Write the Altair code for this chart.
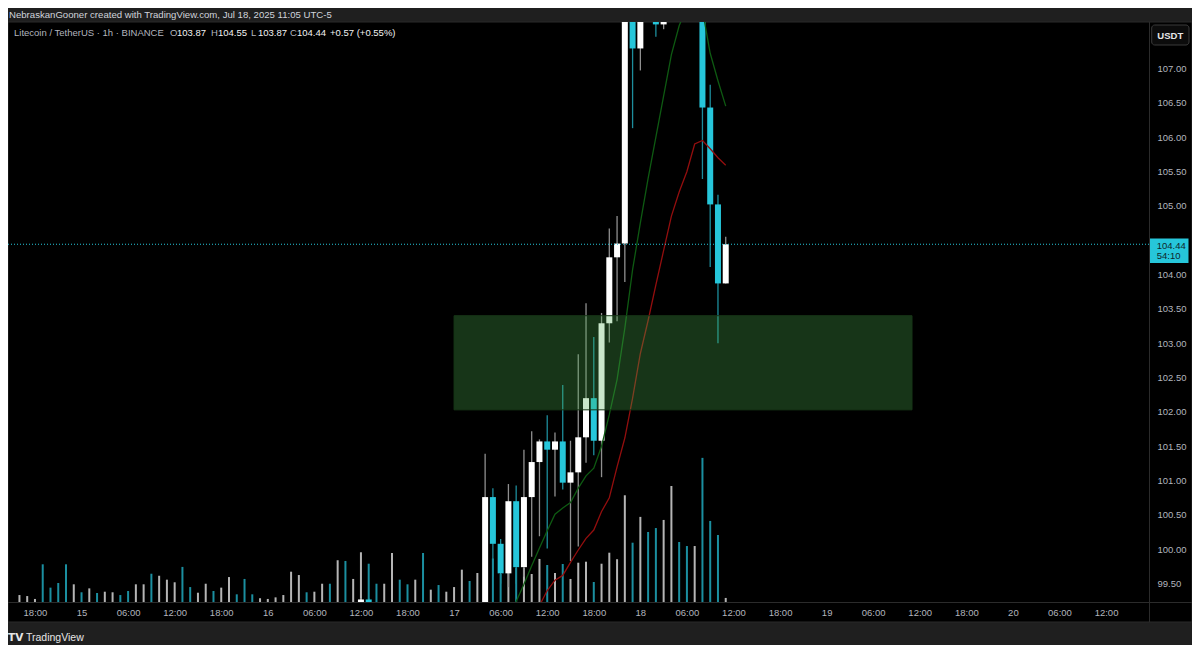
import altair as alt
import pandas as pd

# ---------------- data ----------------
# hours relative to 2025-07-17 00:00 (UTC-5)
vol_hours = list(range(-56, 36))
volumes = [4.8, 4.1, 2.1, 26.0, 9.9, 13.1, 26.0, 12.2, 6.7, 9.4,
           6.2, 7.1, 6.7, 4.8, 7.6, 12.2, 12.2, 19.5, 18.1, 15.4,
           13.6, 24.2, 10.3, 6.4, 12.6, 7.6, 9.9, 17.2, 5.3, 15.9,
           5.3, 2.6, 2.1, 3.2, 4.8, 20.9, 18.6, 6.7, 7.1, 12.6,
           12.6, 28.8, 28.3, 15.9, 34.3, 26.4, 12.6, 12.6, 33.8, 15.4,
           12.2, 15.4, 33.8, 8.5, 11.7, 7.1, 10.3, 22.3, 14.5, 20.0,
           35.0, 30.0, 19.3, 28.0, 23.5, 23.5, 19.3, 29.7, 25.5, 20.0,
           26.2, 15.9, 27.1, 27.8, 13.8, 26.4, 34.0, 29.5, 73.6, 40.9,
           58.7, 48.3, 51.0, 56.6, 80.0, 41.4, 38.6, 38.6, 99.4, 55.9,
           46.2, 2.8]
vol_dir = ["u", "u", "u", "d", "d", "d", "d", "u", "d", "u",
           "d", "u", "u", "d", "d", "u", "u", "d", "u", "u",
           "u", "d", "d", "u", "u", "d", "u", "u", "d", "d",
           "d", "u", "u", "u", "u", "u", "u", "d", "u", "u",
           "d", "u", "d", "u", "u", "d", "d", "u", "u", "d",
           "d", "u", "d", "u", "d", "u", "u", "u", "d", "u",
           "u", "d", "d", "u", "d", "u", "u", "u", "d", "u",
           "d", "u", "u", "u", "d", "u", "u", "u", "u", "d",
           "u", "d", "d", "u", "u", "d", "d", "u", "d", "d",
           "d", "u"]

candle_hours = [-12, -11] + list(range(4, 36))
opens = [98.95, 99.27, 99.10, 100.76, 100.08, 99.65, 100.70, 99.74, 100.76, 101.27,
         101.57, 101.45, 101.57, 100.97, 101.12, 101.63, 102.20, 101.58, 103.29, 104.25,
         104.45, 108.30, 107.29, 108.20, 107.95, 107.64, 107.85, 108.30, 108.05, 107.90,
         108.10, 106.43, 105.02, 103.87]
highs = [99.29, 99.29, 101.39, 100.89, 100.15, 100.95, 100.93, 101.45, 101.72, 101.60,
         101.95, 101.70, 102.39, 101.58, 102.84, 103.58, 103.09, 103.44, 104.67, 104.85,
         108.60, 108.50, 108.60, 108.40, 108.10, 108.00, 108.50, 108.45, 108.20, 108.30,
         108.20, 106.76, 105.16, 104.55]
lows = [98.80, 98.90, 98.90, 99.60, 99.50, 99.45, 99.50, 99.60, 99.89, 100.19,
        100.01, 100.77, 100.87, 99.83, 100.04, 101.26, 101.37, 101.05, 103.01, 103.32,
        103.89, 106.13, 106.97, 107.80, 107.46, 107.57, 107.75, 107.90, 107.75, 107.78,
        105.39, 104.11, 103.00, 103.87]
closes = [99.27, 99.05, 100.76, 100.08, 99.65, 100.70, 99.74, 100.76, 101.27, 101.57,
          101.45, 101.57, 100.97, 101.12, 101.63, 102.20, 101.58, 103.29, 104.25, 104.45,
          108.30, 107.29, 108.20, 107.95, 107.64, 107.85, 108.30, 108.05, 107.90, 108.10,
          106.43, 105.02, 103.87, 104.44]

fast_hours = list(range(7, 36))
fast_ma = [98.97, 99.24, 99.49, 99.76, 100.02, 100.27, 100.51, 100.60, 100.68, 100.89,
           101.07, 101.18, 101.50, 101.96, 102.47, 103.22, 104.07, 104.75, 105.40, 106.00,
           106.60, 107.20, 107.62, 107.90, 108.00, 107.85, 107.22, 106.82, 106.45]
slow_hours = list(range(11, 36))
slow_ma = [99.18, 99.40, 99.55, 99.62, 99.81, 99.99, 100.16, 100.28, 100.55, 100.75,
           101.20, 101.62, 102.20, 102.85, 103.33, 103.85, 104.35, 104.85, 105.20, 105.50,
           105.90, 105.95, 105.83, 105.70, 105.59]

zone_hours = [0, 59]
zone_prices = [102.03, 103.40]
last_price = 104.44
countdown = "54:10"

price_ticks = [99.5, 100.0, 100.5, 101.0, 101.5, 102.0, 102.5, 103.0, 103.5,
               104.0, 105.0, 105.5, 106.0, 106.5, 107.0]
time_ticks = list(range(-54, 85, 6))

header = "NebraskanGooner created with TradingView.com, Jul 18, 2025 11:05 UTC-5"
symbol = "Litecoin / TetherUS · 1h · BINANCE"
ohlc_labels = ["O", "H", "L", "C"]
ohlc_values = ["103.87", "104.55", "103.87", "104.44"]
change_text = "+0.57 (+0.55%)"

# ---------------- styling ----------------
FONT = "Liberation Sans"
W, H = 1142, 580
BG = "#1f1f1f"
LINE = "#2b2b2b"
AXIS_TXT = "#b2b5be"
UP_BODY, DN_BODY = "#ffffff", "#26c6da"
UP_WICK, DN_WICK = "#8f8f8f", "#1d8d9c"
UP_VOL, DN_VOL = "#b5b5b5", "#1b8fa0"

XS = alt.Scale(domain=[-56.83, 89.02], nice=False, zero=False)
YS = alt.Scale(domain=[99.233, 107.675], nice=False, zero=False)

label_expr = ("((datum.value % 24) + 24) % 24 == 0 ? toString(17 + floor(datum.value / 24)) : "
              "(((datum.value % 24) + 24) % 24 == 6 ? '06:00' : "
              "toString(((datum.value % 24) + 24) % 24) + ':00')")
XAX = alt.Axis(values=time_ticks, labelExpr=label_expr, labelColor=AXIS_TXT, labelFontSize=9.5,
               labelFont=FONT, ticks=False, tickSize=0, domain=False, grid=False, labelPadding=5,
               labelFlush=False, labelOverlap=False, zindex=1, title=None)
YAX = alt.Axis(orient="right", values=price_ticks, format=".2f", labelColor=AXIS_TXT,
               labelFontSize=9.5, labelFont=FONT, ticks=False, tickSize=0, domain=False,
               grid=False, labelPadding=7, labelOverlap=False, labelFlush=False, zindex=1,
               title=None)


def X(f):
    return alt.X(f, type="quantitative", scale=XS, axis=XAX, title=None)


def Y(f):
    return alt.Y(f, type="quantitative", scale=YS, axis=YAX, title=None)


vol_df = pd.DataFrame({"h": vol_hours, "vol": volumes, "dir": vol_dir})
candle_df = pd.DataFrame({"h": candle_hours, "open": opens, "high": highs,
                          "low": lows, "close": closes})
fast_df = pd.DataFrame({"h": fast_hours, "ma": fast_ma})
slow_df = pd.DataFrame({"h": slow_hours, "ma": slow_ma})
zone_df = pd.DataFrame({"h1": [zone_hours[0]], "h2": [zone_hours[1]],
                        "p1": [zone_prices[0]], "p2": [zone_prices[1]]})
last_df = pd.DataFrame({"price": [last_price]})
one = pd.DataFrame({"a": [0]})

# ---------------- layers ----------------
panel = alt.Chart(one).mark_rect(fill="#000000", stroke=LINE, strokeWidth=1).encode(
    x=alt.value(0), x2=alt.value(1184), y=alt.value(0), y2=alt.value(600))
vline = alt.Chart(one).mark_rule(color=LINE, strokeWidth=1).encode(
    x=alt.value(1141.5), y=alt.value(0), y2=alt.value(600))
hline = alt.Chart(one).mark_rule(color=LINE, strokeWidth=1).encode(
    x=alt.value(0), x2=alt.value(1184), y=alt.value(580.5))

volume = alt.Chart(vol_df).transform_calculate(
    col=f"datum.dir == 'u' ? '{UP_VOL}' : '{DN_VOL}'"
).mark_bar(size=2, orient="vertical", clip=True).encode(
    x=X("h"),
    y=alt.Y("vol:Q", scale=alt.Scale(domain=[0, 400], nice=False, zero=True), axis=None),
    color=alt.Color("col:N", scale=None),
)

cbase = alt.Chart(candle_df).transform_calculate(
    body=f"datum.close >= datum.open ? '{UP_BODY}' : '{DN_BODY}'",
    wick=f"datum.close >= datum.open ? '{UP_WICK}' : '{DN_WICK}'",
)
wicks = cbase.mark_rule(strokeWidth=1.3, clip=True).encode(
    x=X("h"), y=Y("low"), y2=alt.Y2("high"), color=alt.Color("wick:N", scale=None))
bodies = cbase.mark_bar(size=6, orient="vertical", clip=True).encode(
    x=X("h"), y=Y("open"), y2=alt.Y2("close"), color=alt.Color("body:N", scale=None))

fast = alt.Chart(fast_df).mark_line(color="#0e5a12", strokeWidth=1.3, clip=True).encode(
    x=X("h"), y=Y("ma"))
slow = alt.Chart(slow_df).mark_line(color="#930e0e", strokeWidth=1.3, clip=True).encode(
    x=X("h"), y=Y("ma"))

zone = alt.Chart(zone_df).mark_rect(fill="#4caf50", fillOpacity=0.3, stroke="#173717",
                                    strokeWidth=1, clip=True).encode(
    x=X("h1"), x2=alt.X2("h2"), y=Y("p1"), y2=alt.Y2("p2"))

pline = alt.Chart(last_df).mark_rule(color="#26c6da", strokeWidth=1, strokeDash=[1, 2]).encode(
    y=Y("price"), x=alt.value(0), x2=alt.value(1142))
pbox = alt.Chart(last_df).mark_rect(color="#26c6da", yOffset=-5.7, y2Offset=18.7).encode(
    y=Y("price"), y2=alt.Y2("price"), x=alt.value(1141.5), x2=alt.value(1180.5))
ptxt = alt.Chart(last_df).mark_text(align="left", baseline="middle", font=FONT, fontSize=9.5,
                                    color="#0f262b", dy=2).encode(
    y=Y("price"), x=alt.value(1148.7), text=alt.Text("price:Q", format=".2f"))
ctxt = alt.Chart(last_df).mark_text(align="left", baseline="middle", font=FONT, fontSize=9.5,
                                    color="#0f262b", dy=11.5, text=countdown).encode(
    y=Y("price"), x=alt.value(1148.7))

price_group = alt.layer(wicks, bodies, fast, slow, zone, pline, pbox, ptxt, ctxt)


def txt(s, x, y, size=9.5, color=AXIS_TXT, weight="normal", align="left", font=FONT):
    return alt.Chart(one).mark_text(text=s, align=align, baseline="middle", font=font,
                                    fontSize=size, color=color, fontWeight=weight).encode(
        x=alt.value(x), y=alt.value(y))


decor = [txt(header, 1, -7, 9.6, "#d1d4dc"),
         txt(symbol, 6, 11, 9.5, AXIS_TXT)]
ox = [162, 203, 243, 282]
for lab, val, px in zip(ohlc_labels, ohlc_values, ox):
    decor.append(txt(lab, px, 11, 9.5, AXIS_TXT))
    decor.append(txt(val, px + 7, 11, 9.5, "#f2f2f2"))
decor.append(txt(change_text, 322, 11, 9.5, "#f2f2f2"))

usdt_box = alt.Chart(one).mark_rect(fill="#0c0c0c", stroke="#3a3a3a", strokeWidth=1,
                                    cornerRadius=3).encode(
    x=alt.value(1143.7), x2=alt.value(1181), y=alt.value(3), y2=alt.value(23))
decor.append(usdt_box)
decor.append(txt("USDT", 1162.3, 13.5, 9.5, "#e6e6e6", "bold", "center"))
decor.append(txt("TV", 0, 616, 10.5, "#e6e6e6", 900, "left", "DejaVu Sans"))
decor.append(txt("TradingView", 18, 616, 10.5, "#e6e6e6"))

chart = alt.layer(panel, volume, price_group, vline, hline, *decor).resolve_scale(
    y="independent"
).properties(
    width=W, height=H,
    padding={"left": 0, "top": 14, "right": 42, "bottom": 43},
    autosize=alt.AutoSizeParams(type="none"),
).configure(background=BG, font=FONT).configure_view(stroke=None)

chart.save("out.html", embed_options={"renderer": "svg", "actions": False})
